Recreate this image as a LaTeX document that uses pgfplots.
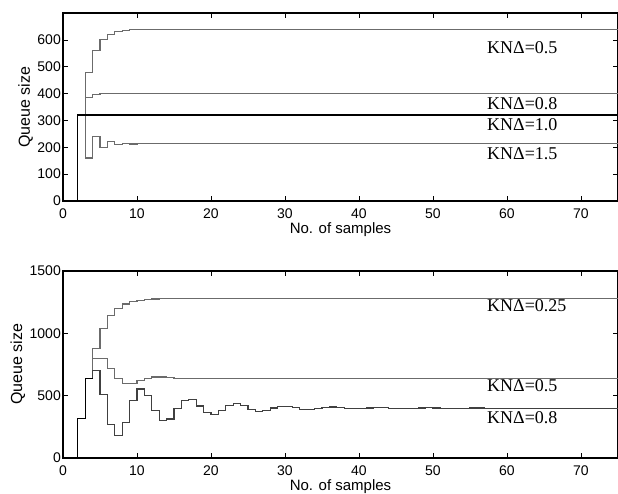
\documentclass[border=0pt]{standalone}
\usepackage{fontspec}
\setmainfont{Liberation Serif}
\setsansfont{Liberation Sans}
\usepackage{pgfplots}
\pgfplotsset{compat=1.18}
\definecolor{lgray}{gray}{0.42}

\pgfplotsset{
  qaxis/.style={
    scale only axis,
    width=555pt,
    xmin=0, xmax=75,
    xtick={0,10,...,70},
    tick align=inside,
    major tick length=5pt,
    axis line style={line width=1.4pt},
    tick style={black, line width=0.7pt},
    /pgf/number format/assume math mode=true,
    /pgf/number format/1000 sep={},
    ticklabel style={font=\fontsize{14}{16}\selectfont\sffamily, inner sep=1pt},
    xticklabel style={yshift=-7pt},
    yticklabel style={xshift=-1pt},
    ylabel style={font=\fontsize{16}{18}\selectfont\sffamily},
    xlabel style={font=\fontsize{15}{17}\selectfont\sffamily,
      at={(axis description cs:0.5,0)}, anchor=center, yshift=-29pt},
    ylabel={Queue size},
    xlabel={No. of samples},
    every axis plot/.append style={const plot, line width=1.15pt},
  },
}
\tikzset{knlab/.style={anchor=west, inner sep=0pt, font=\fontsize{18}{20}\selectfont}}

\begin{document}
\begin{tikzpicture}

% --- upper panel ---
\begin{axis}[qaxis, at={(63pt,-201pt)}, anchor=south west, height=188pt,
  ymin=0, ymax=700, ytick={0,100,...,600}]
\addplot[lgray] coordinates {(2,320) (3,480) (4,560) (5,600) (6,620) (7,630) (8,635)
  (9,637.5) (10,638.75) (11,639.4) (12,639.7) (13,639.8) (14,639.9) (15,640) (75,640)};
\addplot[lgray] coordinates {(2,320) (3,384) (4,396.8) (5,399.4) (6,399.9) (7,400) (75,400)};
\addplot[lgray] coordinates {(2,320) (3,160) (4,240) (5,200) (6,220) (7,210) (8,215)
  (9,212.5) (10,213.75) (11,213.1) (12,213.4) (13,213.3) (75,213.3)};
\addplot[black, line width=1.2pt] coordinates {(0,0) (2,320) (75,320)};
\node[knlab] at (axis cs:57.3,570) {KNΔ=0.5};
\node[knlab] at (axis cs:57.3,364) {KNΔ=0.8};
\node[knlab] at (axis cs:57.3,286) {KNΔ=1.0};
\node[knlab] at (axis cs:57.3,178) {KNΔ=1.5};
\end{axis}

% --- lower panel ---
\begin{axis}[qaxis, at={(63pt,-458pt)}, anchor=south west, height=187pt,
  ymin=0, ymax=1500, ytick={0,500,1000,1500}]
\addplot[lgray] coordinates {(3,640) (4,880) (5,1040) (6,1140) (7,1200) (8,1235) (9,1255)
  (10,1266) (11,1272.5) (12,1276) (13,1277.8) (14,1278.8) (15,1279.4) (16,1279.7)
  (17,1279.9) (18,1280) (75,1280)};
\addplot[lgray] coordinates {(3,640) (4,800) (5,800) (6,720) (7,640) (8,600) (9,600)
  (10,620) (11,640) (12,650) (13,650) (14,645) (15,640) (16,637.5) (17,637.5)
  (18,638.75) (19,640) (20,640.6) (21,640.6) (22,640.3) (23,640) (24,639.8) (25,639.8)
  (26,640) (75,640)};
\addplot[black!75] coordinates {(3,640) (4,704) (5,512) (6,268.8) (7,179.2) (8,284.2)
  (9,460.8) (10,553.5) (11,504.8) (12,382.1) (13,298.2) (14,312.6) (15,394.0)
  (16,464.0) (17,468.8) (18,417.6) (19,362.6) (20,348.5) (21,378.5) (22,419.6)
  (23,436.9) (24,421.2) (25,391.7) (26,374.7) (27,381.4) (28,401.6) (29,416.5)
  (30,415.2) (31,402.0) (32,389.8) (33,388.2) (34,396.4) (35,405.8) (36,408.7)
  (37,404.1) (38,397.1) (39,393.9) (40,396.2) (41,401.1) (42,404.1) (43,403.3)
  (44,400.0) (45,397.4) (46,397.4) (47,399.5) (48,401.6) (49,402.0) (50,400.7)
  (51,399.1) (52,398.6) (53,399.3) (54,400.4) (55,401.0) (56,400.7) (57,399.9)
  (58,399.3) (59,399.6) (60,400) (75,400)};
\addplot[black, line width=1.2pt] coordinates {(0,0) (2,320) (3,640) (4,640)};
\node[knlab] at (axis cs:57.3,1224) {KNΔ=0.25};
\node[knlab] at (axis cs:57.3,580) {KNΔ=0.5};
\node[knlab] at (axis cs:57.3,325) {KNΔ=0.8};
\end{axis}

\pgfresetboundingbox
\path (0pt,0pt) rectangle (618pt,-493pt);
\end{tikzpicture}
\end{document}
